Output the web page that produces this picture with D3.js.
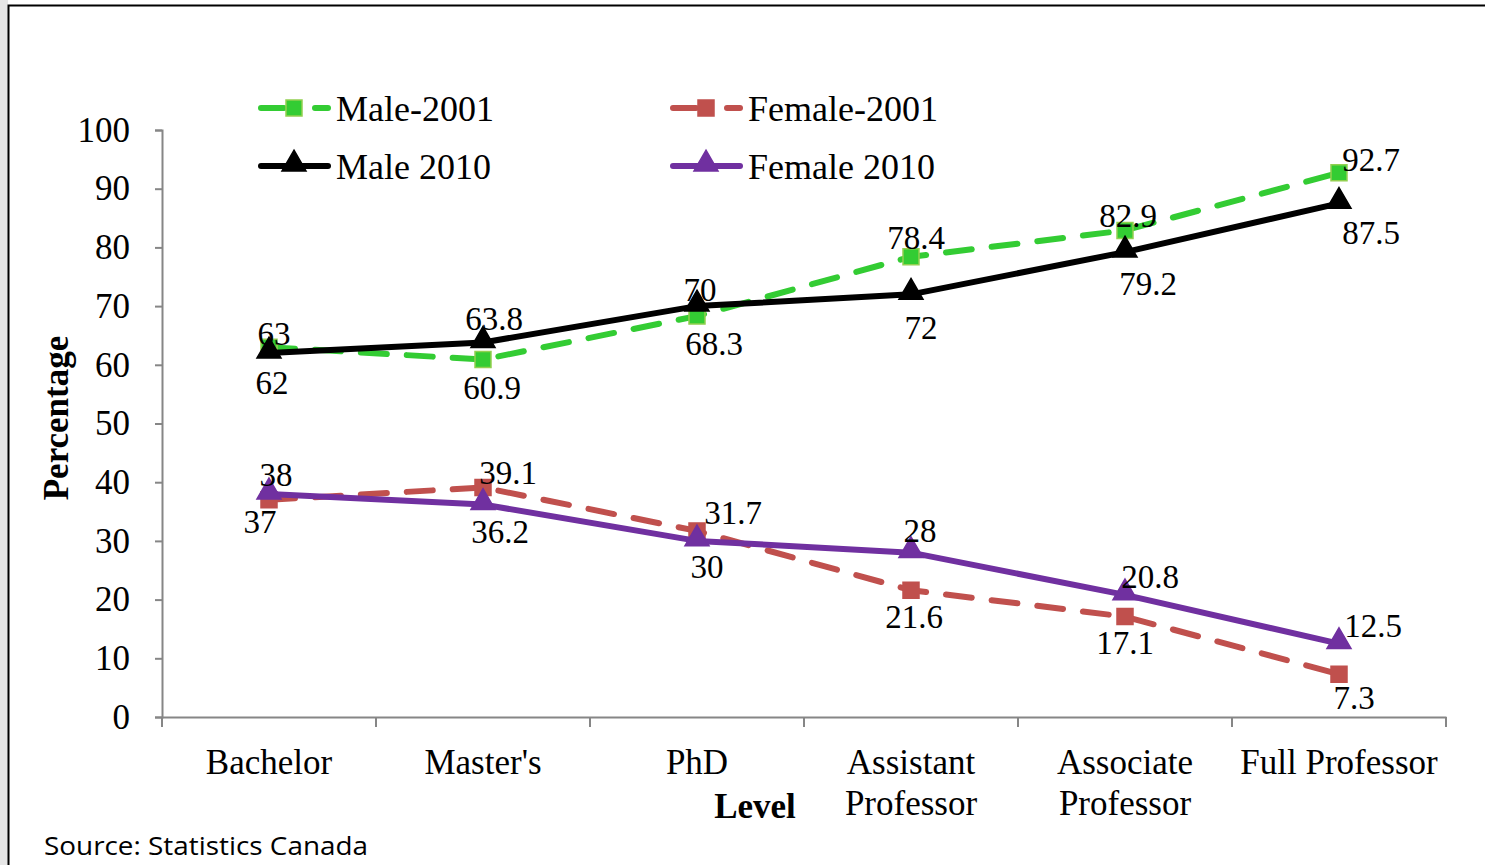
<!DOCTYPE html>
<html>
<head>
<meta charset="utf-8">
<script src="https://cdn.jsdelivr.net/npm/d3@7"></script>
<style>
  body { margin: 0; background: #fff; }
  svg { display: block; }
  .serif { font-family: "Liberation Serif", "Times New Roman", serif; }
</style>
</head>
<body>
<div id="chart"></div>
<script>
// data
var categories = ["Bachelor", "Master's", "PhD", "Assistant Professor", "Associate Professor", "Full Professor"];
var male2001 = [63, 60.9, 68.3, 78.4, 82.9, 92.7];
var female2001 = [37, 39.1, 31.7, 21.6, 17.1, 7.3];
var male2010 = [62, 63.8, 70, 72, 79.2, 87.5];
var female2010 = [38, 36.2, 30, 28, 20.8, 12.5];
var yTicks = [0, 10, 20, 30, 40, 50, 60, 70, 80, 90, 100];

var width = 1485, height = 865;
var margin = {left: 162, right: 39, top: 130, bottom: 148};

var svg = d3.select("#chart").append("svg")
    .attr("width", width)
    .attr("height", height);

// frame like the pasted excel chart
svg.append("rect").attr("x", 0).attr("y", 0).attr("width", 8).attr("height", height).attr("fill", "#e6e6e6");
svg.append("path")
    .attr("d", "M8.5," + height + "V5.5H" + width)
    .attr("fill", "none").attr("stroke", "#000").attr("stroke-width", 2);

var x = d3.scaleBand()
    .domain(categories)
    .range([margin.left, width - margin.right])
    .paddingInner(0).paddingOuter(0);

var y = d3.scaleLinear()
    .domain([0, 100])
    .range([height - margin.bottom, margin.top]);

var axisColor = "#868686";

// y axis
var yAxis = svg.append("g")
    .attr("transform", "translate(" + margin.left + ",0)")
    .call(d3.axisLeft(y).tickValues(yTicks).tickSize(7).tickPadding(25).tickFormat(d3.format("d")));
yAxis.select(".domain").attr("stroke", axisColor).attr("stroke-width", 2);
yAxis.selectAll(".tick line").attr("stroke", axisColor).attr("stroke-width", 2);
yAxis.selectAll("text")
    .attr("class", "serif")
    .attr("font-size", 35)
    .attr("fill", "#000");

// x axis: labels at band centers, ticks on band edges
var xAxis = svg.append("g")
    .attr("transform", "translate(0," + y(0) + ")")
    .call(d3.axisBottom(x).tickSize(0).tickFormat(""));
xAxis.select(".domain").attr("stroke", axisColor).attr("stroke-width", 2);

var edges = categories.map(function(c) { return x(c); }).concat([x.range()[1]]);
xAxis.selectAll(".edge")
    .data(edges)
    .enter().append("line")
    .attr("class", "edge")
    .attr("x1", function(d) { return d; })
    .attr("x2", function(d) { return d; })
    .attr("y1", 0).attr("y2", 10)
    .attr("stroke", axisColor).attr("stroke-width", 2);

var catLines = {
    "Assistant Professor": ["Assistant", "Professor"],
    "Associate Professor": ["Associate", "Professor"]
};
xAxis.selectAll(".cat")
    .data(categories)
    .enter().append("text")
    .attr("class", "cat serif")
    .attr("text-anchor", "middle")
    .attr("font-size", 35)
    .attr("fill", "#000")
    .attr("x", function(d) { return x(d) + x.bandwidth() / 2; })
    .attr("y", 57)
    .each(function(d) {
        var lines = catLines[d] || [d];
        var t = d3.select(this);
        lines.forEach(function(l, i) {
            t.append("tspan")
                .attr("x", x(d) + x.bandwidth() / 2)
                .attr("dy", i === 0 ? 0 : 41)
                .text(l);
        });
    });

// axis titles
svg.append("text")
    .attr("class", "serif")
    .attr("font-size", 35)
    .attr("font-weight", "bold")
    .attr("text-anchor", "middle")
    .attr("transform", "translate(68,418) rotate(-90)")
    .text("Percentage");

svg.append("text")
    .attr("class", "serif")
    .attr("font-size", 35)
    .attr("font-weight", "bold")
    .attr("text-anchor", "middle")
    .attr("x", 755).attr("y", 818)
    .text("Level");

svg.append("text")
    .attr("font-family", "'Open Sans', 'Noto Sans', sans-serif")
    .attr("font-size", 25)
    .attr("x", 44).attr("y", 855)
    .attr("textLength", 324)
    .attr("lengthAdjust", "spacingAndGlyphs")
    .text("Source: Statistics Canada");

// series
var series = [
    {name: "Male-2001", values: male2001, color: "#33CC33", markerStroke: "#92D050", dash: "26,20", shape: d3.symbolSquare,
        labels: [[5, -14], [9, 28], [17, 27], [5, -19], [3, -15], [32, -13]]},
    {name: "Female-2001", values: female2001, color: "#C0504D", markerStroke: "#C0504D", dash: "26,20", shape: d3.symbolSquare,
        labels: [[-9, 22], [25, -15], [36, -18], [3, 26], [0, 26], [15, 23]]},
    {name: "Male 2010", values: male2010, color: "#000000", markerStroke: "#000000", dash: null, shape: d3.symbolTriangle,
        labels: [[3, 29], [11, -24], [3, -17], [10, 33], [23, 31], [32, 29]]},
    {name: "Female 2010", values: female2010, color: "#7030A0", markerStroke: "#7030A0", dash: null, shape: d3.symbolTriangle,
        labels: [[7, -19], [17, 27], [10, 26], [9, -22], [25, -18], [34, -18]]}
];

var cx = function(i) { return x(categories[i]) + x.bandwidth() / 2; };

var line = d3.line()
    .x(function(d, i) { return cx(i); })
    .y(function(d) { return y(d); });

function symbolPath(shape) {
    return d3.symbol().type(shape).size(shape === d3.symbolSquare ? 256 : 250)();
}

series.forEach(function(s) {
    var g = svg.append("g");
    g.append("path")
        .datum(s.values)
        .attr("d", line)
        .attr("fill", "none")
        .attr("stroke", s.color)
        .attr("stroke-width", 6)
        .attr("stroke-linecap", "round")
        .attr("stroke-linejoin", "round")
        .attr("stroke-dasharray", s.dash);

    g.selectAll(".marker")
        .data(s.values)
        .enter().append("path")
        .attr("class", "marker")
        .attr("transform", function(d, i) {
            var off = s.shape === d3.symbolTriangle ? -2 : 0;
            return "translate(" + cx(i) + "," + (y(d) + off) + ")";
        })
        .attr("d", symbolPath(s.shape))
        .attr("fill", s.color)
        .attr("stroke", s.markerStroke)
        .attr("stroke-width", 1.5);
});

// data labels drawn on top
series.forEach(function(s) {
    svg.append("g").selectAll("text")
        .data(s.values)
        .enter().append("text")
        .attr("class", "serif")
        .attr("font-size", 33)
        .attr("text-anchor", "middle")
        .attr("dy", "0.35em")
        .attr("x", function(d, i) { return cx(i) + s.labels[i][0]; })
        .attr("y", function(d, i) { return y(d) + s.labels[i][1]; })
        .text(function(d) { return d; });
});

// legend
var legendPos = [[258, 108], [670, 108], [258, 166], [670, 166]];
series.forEach(function(s, k) {
    var lg = svg.append("g").attr("transform", "translate(" + legendPos[k][0] + "," + legendPos[k][1] + ")");
    if (s.dash) {
        lg.append("line").attr("x1", 3).attr("x2", 26).attr("y1", 0).attr("y2", 0)
            .attr("stroke", s.color).attr("stroke-width", 6).attr("stroke-linecap", "round");
        lg.append("line").attr("x1", 57).attr("x2", 70).attr("y1", 0).attr("y2", 0)
            .attr("stroke", s.color).attr("stroke-width", 6).attr("stroke-linecap", "round");
    } else {
        lg.append("line").attr("x1", 3).attr("x2", 70).attr("y1", 0).attr("y2", 0)
            .attr("stroke", s.color).attr("stroke-width", 6).attr("stroke-linecap", "round");
    }
    lg.append("path")
        .attr("transform", "translate(36," + (s.shape === d3.symbolTriangle ? -2 : 0) + ")")
        .attr("d", symbolPath(s.shape))
        .attr("fill", s.color)
        .attr("stroke", s.markerStroke)
        .attr("stroke-width", 1.5);
    lg.append("text")
        .attr("class", "serif")
        .attr("font-size", 36)
        .attr("x", 78)
        .attr("dy", "0.35em")
        .text(s.name);
});
</script>
</body>
</html>
